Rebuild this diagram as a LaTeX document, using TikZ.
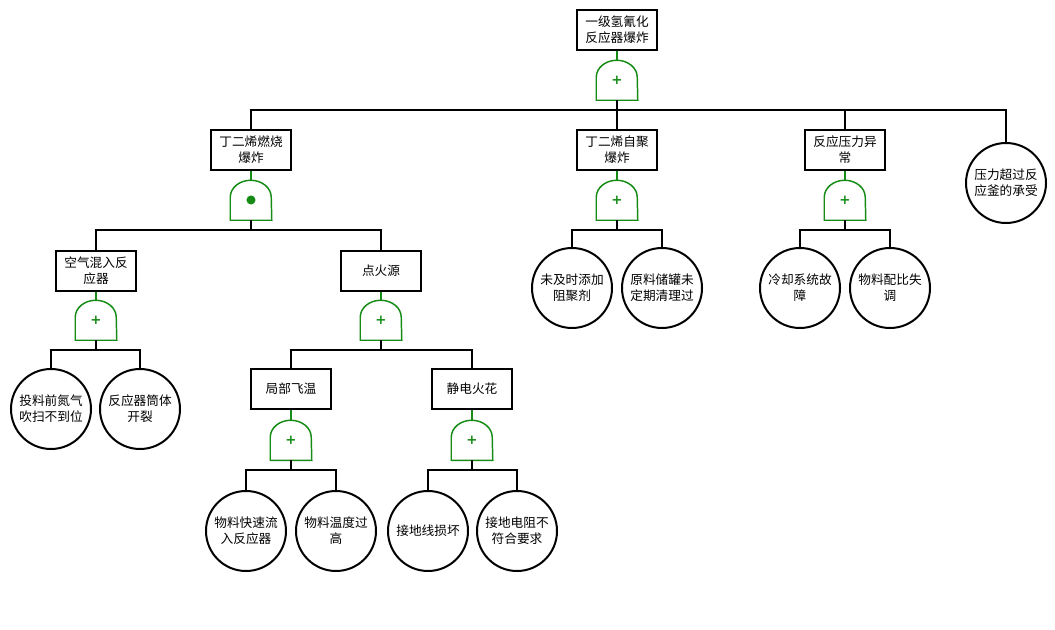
\documentclass[tikz,border=0pt]{standalone}
\usepackage{fontspec}
\newfontfamily\cjk{Noto Sans CJK SC}
\newfontfamily\symb{DejaVu Sans}
\usepackage{tikz}

\definecolor{gatecol}{RGB}{22,140,22}

\begin{document}
\begin{tikzpicture}[x=0.75pt,y=-0.75pt,
        event/.style={draw,line width=1.5pt,minimum width=60pt,minimum height=30pt,inner sep=1pt,align=center,font=\cjk\fontsize{9.5}{12}\selectfont},
        basic/.style={draw,circle,line width=1.5pt,minimum size=60pt,inner sep=0pt,align=center,font=\cjk\fontsize{9.5}{12}\selectfont},
        gate/.style={minimum width=30.75pt,minimum height=30pt,inner sep=0pt,text=gatecol,font=\symb\bfseries\fontsize{10}{10}\selectfont},
        gateline/.style={gatecol,line width=1.1pt},
        wire/.style={line width=1.5pt}]
        \useasboundingbox (0,0) rectangle (1055,630);

        % Top event
        \node[event] (top) at (617,30) {一级氢氰化\\反应器爆炸};
        \node[gate] (g0) at (617,80) {+};

        % Level 1
        \node[event] (burn) at (251,150) {丁二烯燃烧\\爆炸};
        \node[gate] (g1) at (251,200) {};
        \node[event] (poly) at (617,150) {丁二烯自聚\\爆炸};
        \node[gate] (g2) at (617,200) {+};
        \node[event] (press) at (845,150) {反应压力异\\常};
        \node[gate] (g3) at (845,200) {+};
        \node[basic] (over) at (1006,183) {压力超过反\\应釜的承受};

        % Level 2
        \node[event] (air) at (96,271) {空气混入反\\应器};
        \node[gate] (g4) at (96,320) {+};
        \node[event] (fire) at (381,271) {点火源};
        \node[gate] (g5) at (381,320) {+};
        \node[basic] (purge) at (572,288) {未及时添加\\阻聚剂};
        \node[basic] (tank) at (662,288) {原料储罐未\\定期清理过};
        \node[basic] (cool) at (800,288) {冷却系统故\\障};
        \node[basic] (ratio) at (890,288) {物料配比失\\调};

        % Level 3
        \node[basic] (nitro) at (51,409) {投料前氮气\\吹扫不到位};
        \node[basic] (crack) at (140,409) {反应器筒体\\开裂};
        \node[event] (heat) at (291,389) {局部飞温};
        \node[gate] (g6) at (291,440) {+};
        \node[event] (spark) at (472,389) {静电火花};
        \node[gate] (g7) at (472,440) {+};

        % Level 4
        \node[basic] (flow) at (246,531) {物料快速流\\入反应器};
        \node[basic] (temp) at (336,531) {物料温度过\\高};
        \node[basic] (earth) at (428,531) {接地线损坏};
        \node[basic] (resist) at (517,531) {接地电阻不\\符合要求};

        % Gates
        \foreach \g in {g0,g1,g2,g3,g4,g5,g6,g7} {
            \draw[gateline] (\g.south west) -- ++(0pt,17.25pt)
                arc[start angle=180,end angle=0,x radius=15.375pt,y radius=12.75pt]
                -- (\g.south east) -- cycle;
        }
        \fill[gatecol] (g1) circle[radius=3.4pt];

        % Event to gate
        \foreach \e/\g in {top/g0,burn/g1,poly/g2,press/g3,air/g4,fire/g5,heat/g6,spark/g7} {
            \draw[gateline] (\e.south) -- (\g.north);
        }

        % Gate to inputs
        \foreach \g/\kids in {g0/{burn,poly,press,over},g1/{air,fire},g2/{purge,tank},g3/{cool,ratio},
                g4/{nitro,crack},g5/{heat,spark},g6/{flow,temp},g7/{earth,resist}} {
            \draw[wire] (\g.south) -- ++(0,10) coordinate (bus);
            \foreach \k in \kids {
                \draw[wire] (bus) -| (\k.north);
            }
        }
\end{tikzpicture}
\end{document}
